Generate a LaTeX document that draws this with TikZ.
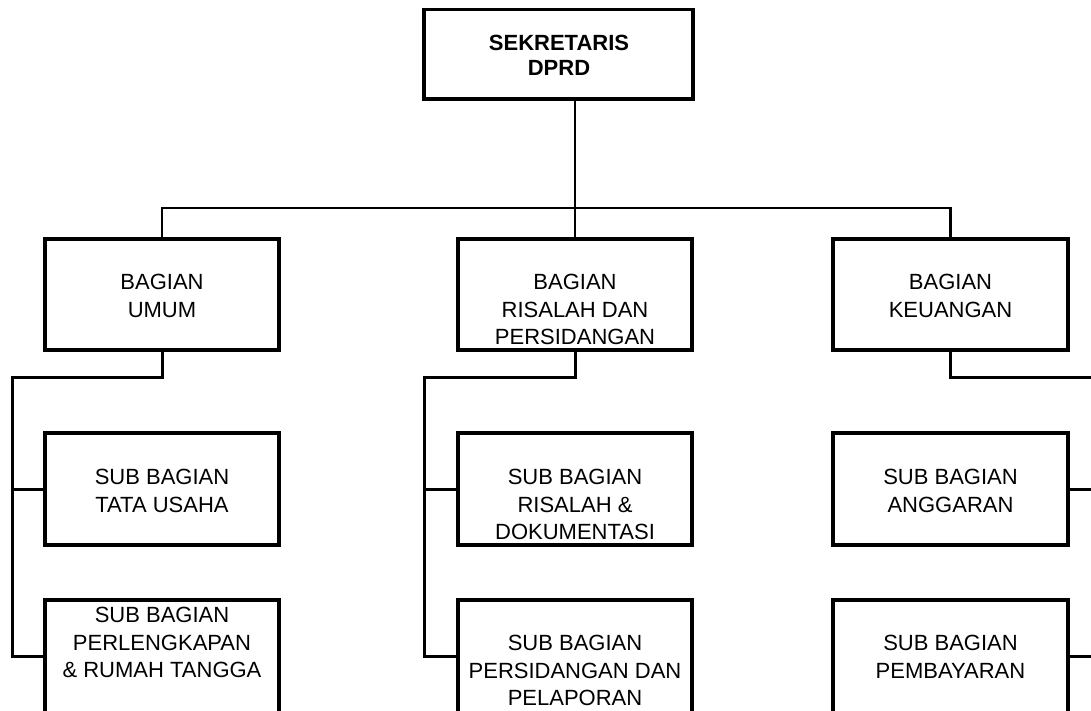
\documentclass[tikz,border=0pt]{standalone}
\usepackage{fontspec}
\setmainfont{Liberation Sans}
\begin{document}
\begin{tikzpicture}[x=1pt,y=-1pt,
  box/.style={draw,line width=3.2pt,rectangle,inner sep=0pt},
  txt/.style={align=center,inner sep=0pt,anchor=north,font=\fontsize{22}{27.5}\selectfont},
  thinconn/.style={line width=2.2pt},
  conn/.style={line width=3pt}]
\useasboundingbox (0,0) rectangle (1091,711);
% boxes
\node[box,minimum width=269pt,minimum height=89.5pt] (top) at (558.5,54.25) {};
\node[box,minimum width=234pt,minimum height=111pt] (umum) at (162,294.5) {};
\node[box,minimum width=234pt,minimum height=111pt] (ris) at (575,294.5) {};
\node[box,minimum width=235pt,minimum height=111pt] (keu) at (950.5,294.5) {};
\node[box,minimum width=234pt,minimum height=112pt] (tu) at (162,489) {};
\node[box,minimum width=234pt,minimum height=112pt] (dok) at (575,489) {};
\node[box,minimum width=235pt,minimum height=112pt] (ang) at (950.5,489) {};
\node[box,minimum width=234pt,minimum height=120pt] (rt) at (162,660) {};
\node[box,minimum width=234pt,minimum height=120pt] (lap) at (575,660) {};
\node[box,minimum width=235pt,minimum height=120pt] (bay) at (950.5,660) {};
% texts
\node[txt,font=\fontsize{22}{25}\selectfont\bfseries] (ttop) at (559,35) {SEKRETARIS\\DPRD};
\node[txt] (tumum) at (162,274) {BAGIAN\\UMUM};
\node[txt] (tris) at (575,274) {BAGIAN\\RISALAH DAN\\PERSIDANGAN};
\node[txt] (tkeu) at (950.5,274) {BAGIAN\\KEUANGAN};
\node[txt] (ttu) at (162,469) {SUB BAGIAN\\TATA USAHA};
\node[txt] (tdok) at (575,469) {SUB BAGIAN\\RISALAH \&\\DOKUMENTASI};
\node[txt] (tang) at (950.5,469) {SUB BAGIAN\\ANGGARAN};
\node[txt] (trt) at (162,607) {SUB BAGIAN\\PERLENGKAPAN\\\& RUMAH TANGGA};
\node[txt] (tlap) at (575,635) {SUB BAGIAN\\PERSIDANGAN DAN\\PELAPORAN};
\node[txt] (tbay) at (950.5,635) {SUB BAGIAN\\PEMBAYARAN};
% top level connectors
\draw[thinconn] (top.south -| ris.north) -- (ris.north);
\draw[thinconn] (umum.north) -- ++(0,-29) -| (keu.north);
% left branch
\coordinate (lb1) at (12,377.5);
\coordinate (lb2) at (12,656);
\draw[conn] (umum.south) |- (lb1) -- (lb2) -- (lb2 -| rt.west);
\draw[conn] (tu.west) -- (tu.west -| lb1);
% middle branch
\coordinate (mb1) at (424,377.5);
\coordinate (mb2) at (424,656);
\draw[conn] (ris.south) |- (mb1) -- (mb2) -- (mb2 -| lap.west);
\draw[conn] (dok.west) -- (dok.west -| mb1);
% right branch
\coordinate (rb1) at (1095,377.5);
\coordinate (rb2) at (1095,656);
\draw[conn] (keu.south) |- (rb1) -- (rb2) -- (rb2 -| bay.east);
\draw[conn] (ang.east) -- (ang.east -| rb1);
\end{tikzpicture}
\end{document}
